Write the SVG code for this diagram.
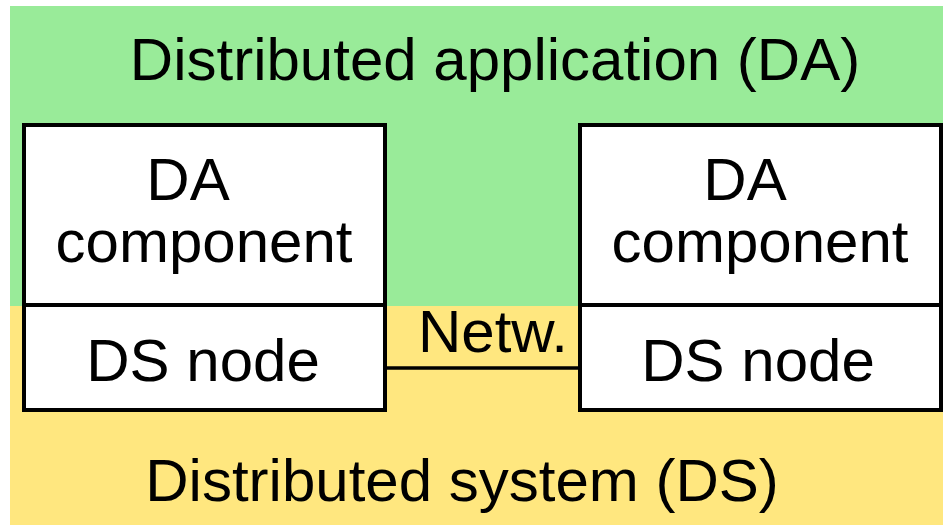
<svg xmlns="http://www.w3.org/2000/svg" width="943" height="525" viewBox="0 0 943 525">
  <style>
    text { font-family: "Liberation Sans", Arial, sans-serif; font-size: 60px; fill: #000; text-anchor: middle; }
    .box { fill: #fff; stroke: #000; stroke-width: 4; }
    .link { stroke: #000; stroke-width: 3.5; fill: none; }
  </style>
  <rect width="943" height="525" fill="#fff"/>
  <!-- layers -->
  <g id="layer-da">
    <rect x="10" y="6" width="933" height="300" fill="#99eb99"/>
    <text x="495" y="80">Distributed application (DA)</text>
  </g>
  <g id="layer-ds">
    <rect x="10" y="306" width="933" height="219" fill="#ffe77f"/>
    <text x="462" y="501">Distributed system (DS)</text>
  </g>
  <!-- network link -->
  <g id="connectors">
    <line class="link" x1="385" y1="368" x2="580" y2="368"/>
    <text x="493" y="352">Netw.</text>
  </g>
  <!-- left host -->
  <g id="component-left">
    <rect class="box" x="24" y="125" width="361" height="180"/>
    <text x="188" y="200">DA</text>
    <text x="204" y="262">component</text>
  </g>
  <g id="node-left">
    <rect class="box" x="24" y="305" width="361" height="105"/>
    <text x="203" y="381">DS node</text>
  </g>
  <!-- right host -->
  <g id="component-right">
    <rect class="box" x="580" y="125" width="361" height="180"/>
    <text x="745" y="200">DA</text>
    <text x="760" y="262">component</text>
  </g>
  <g id="node-right">
    <rect class="box" x="580" y="305" width="361" height="105"/>
    <text x="758" y="381">DS node</text>
  </g>
</svg>
